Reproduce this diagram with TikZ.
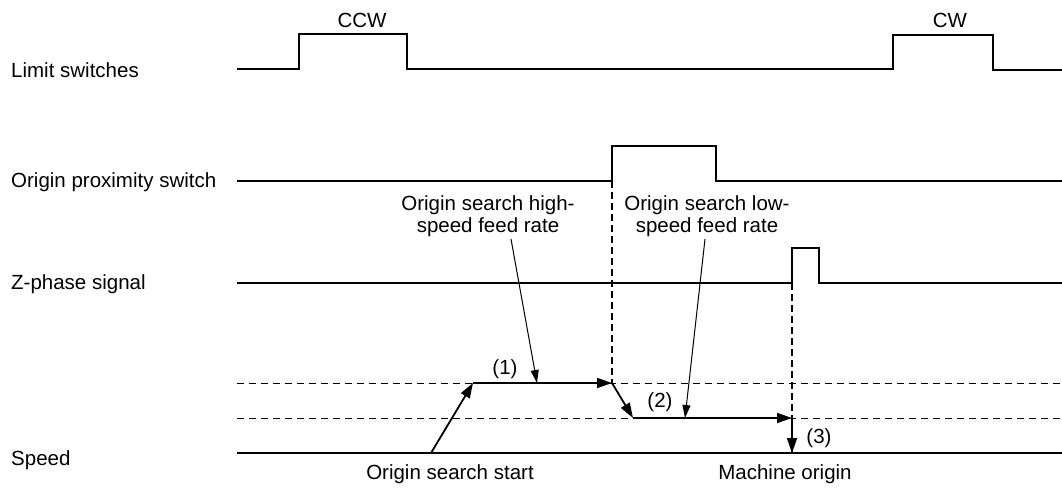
\documentclass[tikz,border=0pt]{standalone}
\usepackage{fontspec}
\setmainfont{Liberation Sans}
\usetikzlibrary{arrows.meta}
\begin{document}
\begin{tikzpicture}[x=1pt,y=-1pt,
  sig/.style={line width=1.8pt, line join=miter},
  guide/.style={line width=1pt, dash pattern=on 7pt off 5pt},
  vguide/.style={line width=1.8pt, dash pattern=on 7pt off 4pt},
  prof/.style={line width=1.8pt, -{Triangle[length=15pt,width=10pt]}},
  lead/.style={line width=1pt, -{Triangle[length=13pt,width=8pt]}},
  lbl/.style={font=\fontsize{20.5}{22}\selectfont, inner sep=0pt},
]
\useasboundingbox (0,0) rectangle (1062,487);

% row labels
\node[lbl, anchor=west] (lsw) at (11,70) {Limit switches};
\node[lbl, anchor=west] (prx) at (11,182) {Origin proximity switch};
\node[lbl, anchor=west] (zph) at (11,284) {Z-phase signal};
\node[lbl, anchor=west] (spd) at (11,460) {Speed};

% pulse labels
\node[lbl] (ccw) at (362,20) {CCW};
\node[lbl] (cw) at (950,20) {CW};

% waveforms
\draw[sig] (237,69) -- (299,69) -- (299,34) -- (407,34) -- (407,69) -- (893,69) -- (893,35) -- (993,35) -- (993,70) -- (1062,70);
\draw[sig] (237,181) -- (612,181) -- (612,146) -- (716,146) -- (716,181) -- (1062,181);
\draw[sig] (237,283) -- (792,283) -- (792,248) -- (819,248) -- (819,283) -- (1062,283);

% speed axes
\coordinate (s0) at (237,453);
\coordinate (s1) at (1062,453);
\draw[sig] (s0) -- (s1);
\draw[guide] (237,383) -- (1062,383);
\draw[guide] (237,418) -- (1062,418);

% vertical guides
\coordinate (prxup) at (612,181);
\coordinate (zup) at (792,283);
\coordinate (a) at (431,453);
\coordinate (b) at (473,383);
\coordinate (c) at (612,383);
\coordinate (d) at (633,418);
\coordinate (e) at (792,418);
\coordinate (f) at (792,453);
\draw[vguide] (prxup) -- (c);
\draw[vguide] (zup) -- (f);

% speed profile
\draw[prof] (a) -- (b);
\draw[prof] (b) -- (c);
\draw[prof] (c) -- (d);
\draw[prof] (d) -- (e);
\draw[prof] (e) -- (f);

\node[lbl] (n1) at (505,369) {(1)};
\node[lbl] (n2) at (660,402) {(2)};
\node[lbl] (n3) at (819,438) {(3)};

% feed rate labels
\node[lbl, align=center, anchor=south] (hs) at (488,237) {Origin search high-\\speed feed rate};
\node[lbl, align=center, anchor=south] (ls) at (707,237) {Origin search low-\\speed feed rate};
\coordinate (hsstart) at (511,239);
\coordinate (lsstart) at (705,239);
\coordinate (hsend) at (537,383);
\coordinate (lsend) at (685,418);
\draw[lead] (hsstart) -- (hsend);
\draw[lead] (lsstart) -- (lsend);

% bottom labels
\node[lbl] (start) at (450,474) {Origin search start};
\node[lbl] (morg) at (785,474) {Machine origin};
\end{tikzpicture}
\end{document}
